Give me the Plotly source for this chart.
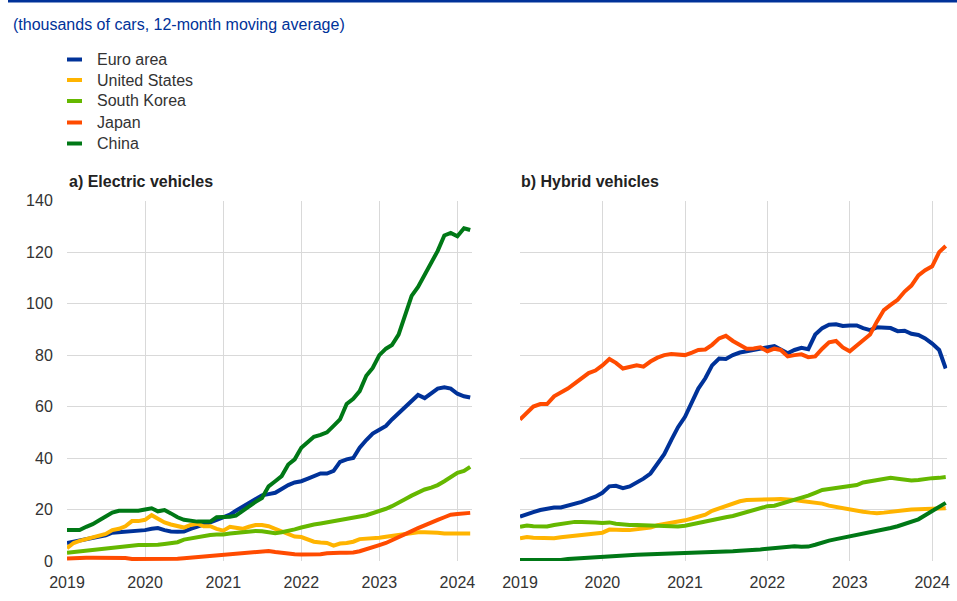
import pandas as pd
import plotly.graph_objects as go

W, H = 957, 601

months = pd.date_range("2019-01-01", "2024-03-01", freq="MS")
year_ticks = pd.date_range("2019-01-01", "2024-01-01", freq="YS")
tick_labels = [str(d.year) for d in year_ticks]

series_names = ["Euro area", "United States", "South Korea", "Japan", "China"]
series_colors = ["#003299", "#FFB400", "#65B800", "#FF4B00", "#007816"]

panel_titles = ["a) Electric vehicles", "b) Hybrid vehicles"]
subtitle = "(thousands of cars, 12-month moving average)"

# a) Electric vehicles (thousands of cars, 12-month moving average), Jan 2019 - Mar 2024
ev_euro_area = [7, 7.5, 8, 8.5, 9, 9.5, 10, 11, 11.2, 11.3, 11.4, 11.5,
                12, 12.5, 12.8, 12.0, 11.5, 11.4, 11.5, 12.5, 13.3, 14, 15, 16,
                17, 18, 19.5, 21, 22.5, 24, 25.5, 26, 26.5, 28, 29.5, 30.5,
                31, 32, 33, 34, 34, 35, 38.5, 39.5, 40, 44, 47, 49.5,
                51, 52.5, 55, 57.5, 60, 62, 64.5, 63.3, 65, 67, 67.5, 67,
                65, 64, 63.5]
ev_united_states = [5, 7, 7.8, 8.5, 9.3, 9.8, 10.5, 12, 12.5, 13.5, 15.5, 15.5,
                    16, 17.8, 16.5, 15, 14.2, 13.5, 13, 14, 14.5, 13.5, 13.5, 12.5,
                    11.8, 13.3, 13, 12.5, 13.3, 14, 14, 13.5, 12.5, 11.5, 10.5, 9.5,
                    9.3, 8.5, 7.5, 7.2, 7, 6, 6.8, 7, 7.5, 8.5, 8.6, 8.8,
                    9, 9.4, 9.7, 10, 10.5, 11, 11.2, 11.2, 11.2, 11, 10.7, 10.7,
                    10.7, 10.7, 10.7]
ev_south_korea = [3.2, 3.5, 3.7, 4, 4.2, 4.4, 4.8, 5, 5.3, 5.6, 6, 6.2,
                  6.2, 6.2, 6.3, 6.6, 7, 7.3, 8.3, 8.8, 9.2, 9.7, 10.1, 10.3,
                  10.3, 10.7, 11, 11.3, 11.5, 11.7, 11.6, 11.3, 10.8, 11.2, 11.6, 12.3,
                  13, 13.8, 14.2, 14.6, 15, 15.3, 15.8, 16.3, 16.8, 17.3, 17.8, 18.5,
                  19.5, 20.3, 21.3, 22.5, 24, 25.4, 26.8, 27.8, 28.5, 29.5, 31, 32.5,
                  34.3, 35, 36.6]
ev_japan = [1, 1.2, 1.3, 1.3, 1.3, 1.3, 1.3, 1.2, 1.2, 1.2, 0.8, 0.8,
            0.6, 0.7, 0.8, 0.8, 0.7, 0.9, 1.1, 1.3, 1.5, 1.8, 2.0, 2.3,
            2.4, 2.6, 2.9, 3.1, 3.3, 3.5, 3.6, 3.9, 3.5, 3.1, 2.8, 2.6,
            2.5, 2.5, 2.5, 2.6, 3.0, 3.2, 3.2, 3.2, 3.3, 3.8, 4.5, 5.3,
            6.2, 7.0, 8.0, 9.2, 10.4, 11.6, 12.8, 14, 15, 16, 17, 18,
            18.3, 18.4, 18.7]
ev_china = [12, 12, 12, 13.3, 14.3, 15.8, 17.5, 18.8, 19.5, 19.5, 19.5, 19.5,
            20, 20.5, 19.3, 19.8, 18.5, 17, 16, 15.5, 15.3, 15.3, 15.3, 17,
            17, 17.2, 17.6, 19.5, 21, 23, 24.5, 29, 31, 33, 37.5, 39.5,
            44, 46.5, 48.3, 49, 50, 52.5, 55, 61, 63, 66, 72, 75,
            80, 82.5, 83.9, 88, 95, 103, 106.5, 111.5, 116, 120.5, 126.5, 127.5,
            126.2, 129.3, 128.6]

# b) Hybrid vehicles
hy_euro_area = [17.2, 18.3, 19, 19.8, 20.3, 20.8, 20.8, 21.5, 22.5, 23, 24, 25,
                26.5, 29, 29.2, 28.3, 29, 30.5, 32, 34, 37.5, 41.5, 47, 52,
                56, 62, 67, 71, 76, 78.7, 78.5, 80, 81, 81.5, 82, 82.5,
                83, 83.5, 82.2, 80.7, 82, 82.8, 82.3, 88, 90.5, 91.8, 92, 91.3,
                91.5, 91.5, 90.5, 89.7, 90.8, 90.8, 90.5, 89.3, 89.5, 88.3, 87.8, 86.5,
                84.5, 82, 74.8]
hy_united_states = [8.8, 9.3, 9.0, 8.8, 8.8, 8.8, 9.2, 9.5, 10, 10.3, 10.7, 10.7,
                    11, 12.2, 12, 12, 12, 12.3, 12.6, 13, 13.9, 14.3, 15, 15.3,
                    15.8, 16.5, 17.2, 18, 19.5, 20.5, 21.5, 22.5, 23.2, 23.7, 23.7, 23.7,
                    23.7, 24, 24.1, 24, 23.7, 23.3, 23, 22.8, 22.3, 21.5, 21, 20.3,
                    19.8, 19.5, 19.1, 18.8, 18.6, 18.8, 19.2, 19.4, 19.7, 20, 20.1, 20.3,
                    20.5, 20.5, 20.5]
hy_south_korea = [13.3, 13.8, 13.5, 13.3, 13.4, 14, 14.3, 15, 15.2, 15.2, 15.2, 15,
                  14.8, 15, 14.5, 14.1, 14, 14, 13.9, 13.7, 13.6, 13.5, 13.3, 13.4,
                  13.7, 14.2, 14.8, 15.2, 15.7, 16.5, 17, 17.5, 18.3, 19, 20, 20.8,
                  21.3, 21.5, 22.2, 23.2, 23.8, 24.5, 25.4, 26.5, 27.6, 28, 28.4, 28.7,
                  28.8, 29.5, 30.5, 31, 31.6, 32, 32.3, 32, 31.6, 31.3, 31.5, 31.9,
                  32.2, 32.3, 32.6]
hy_japan = [55, 57.5, 60, 61, 61, 64, 65.5, 67, 69, 71, 73, 74,
            76, 78.5, 77, 74.8, 75.5, 76, 75.5, 77.5, 79, 80, 80.4, 80.2,
            80, 81, 82, 82.2, 84, 86.5, 87.5, 85.5, 84, 82.5, 82.6, 83,
            81.5, 82.5, 82, 79.5, 80, 80.3, 79.2, 79.5, 82.5, 85, 85.5, 83,
            81.5, 83.8, 85.5, 88, 93, 97.5, 99.5, 101.5, 104.7, 107, 111, 113,
            114.5, 120, 122.4]
hy_china = [0.4, 0.4, 0.4, 0.4, 0.4, 0.4, 0.4, 0.8, 1.0, 1.1, 1.2, 1.3,
            1.4, 1.6, 1.8, 2.0, 2.2, 2.4, 2.5, 2.6, 2.7, 2.8, 2.9, 3.0,
            3.0, 3.0, 3.0, 3.3, 3.5, 3.6, 3.6, 3.8, 4.0, 4.1, 4.3, 4.5,
            4.8, 5.1, 5.4, 5.6, 5.7, 5.5, 5.6, 6.3, 7.3, 7.9, 8.5, 9.0,
            9.5, 10.0, 10.6, 11.0, 11.6, 12.2, 12.8, 13.5, 14.3, 15.0, 16.2, 17.8,
            19.3, 20.8, 22.6]

ev_series = [ev_euro_area, ev_united_states, ev_south_korea, ev_japan, ev_china]
hy_series = [hy_euro_area, hy_united_states, hy_south_korea, hy_japan, hy_china]

FONT = "Arial, 'Liberation Sans', sans-serif"
GRID = "#d9d9d9"
TICKC = "#333333"


def px(x):
    return x / W


def py(y):
    return 1 - y / H


fig = go.Figure()
for vals, name, color in zip(ev_series, series_names, series_colors):
    fig.add_trace(go.Scatter(x=months, y=vals, name=name, mode="lines",
                             line=dict(color=color, width=4), xaxis="x", yaxis="y",
                             showlegend=False))
for vals, name, color in zip(hy_series, series_names, series_colors):
    fig.add_trace(go.Scatter(x=months, y=vals, name=name, mode="lines",
                             line=dict(color=color, width=4), xaxis="x2", yaxis="y2",
                             showlegend=False))

x_common = dict(type="date", range=["2019-01-01", "2024-03-08"],
                tickvals=list(year_ticks), ticktext=tick_labels,
                showgrid=True, gridcolor=GRID, gridwidth=1, zeroline=False,
                ticks="outside", ticklen=7, tickcolor="rgba(0,0,0,0)",
                tickfont=dict(size=16, color=TICKC, family=FONT),
                showline=False, automargin=False, fixedrange=True)
y_common = dict(range=[0, 140], tickvals=[0, 20, 40, 60, 80, 100, 120, 140],
                showgrid=True, gridcolor=GRID, gridwidth=1, zeroline=False,
                ticks="outside", ticklen=10, tickcolor="rgba(0,0,0,0)",
                tickfont=dict(size=16, color=TICKC, family=FONT),
                showline=False, automargin=False, fixedrange=True,
                domain=[py(561), py(200.7)])

fig.update_layout(
    width=W, height=H,
    margin=dict(l=0, r=0, t=0, b=0),
    paper_bgcolor="white", plot_bgcolor="white",
    font=dict(family=FONT, color=TICKC),
    showlegend=False,
    xaxis=dict(domain=[px(67), px(471.7)], anchor="y", **x_common),
    yaxis=dict(anchor="x", showticklabels=True, **y_common),
    xaxis2=dict(domain=[px(520), px(947.3)], anchor="y2", **x_common),
    yaxis2=dict(anchor="x2", showticklabels=False, **y_common),
)

shapes = [dict(type="rect", xref="paper", yref="paper",
               x0=px(8), x1=1, y0=py(2.5), y1=1,
               fillcolor="#003299", line=dict(width=0), layer="above")]
annotations = [dict(text=subtitle, xref="paper", yref="paper",
                    x=px(11), y=py(25), xanchor="left", yanchor="middle",
                    showarrow=False, font=dict(size=16, color="#003299", family=FONT))]

legend_rows = [59.5, 80, 101, 122.5, 143.5]
for name, color, yrow in zip(series_names, series_colors, legend_rows):
    shapes.append(dict(type="line", xref="paper", yref="paper",
                       x0=px(67), x1=px(82), y0=py(yrow), y1=py(yrow),
                       line=dict(color=color, width=4)))
    annotations.append(dict(text=name, xref="paper", yref="paper",
                            x=px(95), y=py(yrow), xanchor="left", yanchor="middle",
                            showarrow=False, font=dict(size=16, color=TICKC, family=FONT)))

for title, xl in zip(panel_titles, [67, 519]):
    annotations.append(dict(text="<b>" + title + "</b>", xref="paper", yref="paper",
                            x=px(xl), y=py(181.5), xanchor="left", yanchor="middle",
                            showarrow=False, font=dict(size=16, color="#222222", family=FONT)))

fig.update_layout(shapes=shapes, annotations=annotations)

fig.write_html("out.html",
               config=dict(displayModeBar=False, staticPlot=True),
               post_script="document.body.style.margin='0';document.body.style.overflow='hidden';")
